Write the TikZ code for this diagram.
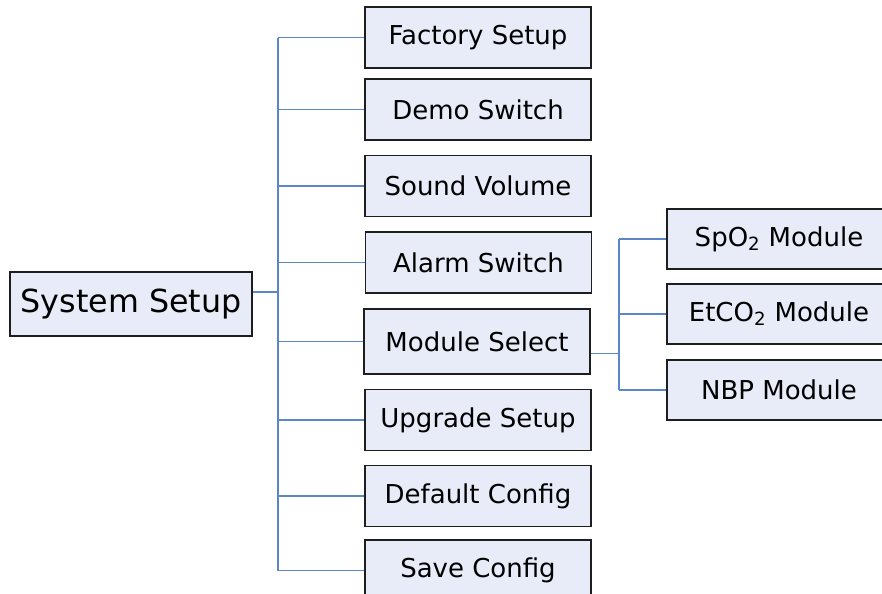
\documentclass[tikz,border=0pt]{standalone}
\usepackage{fontspec}
\setmainfont{DejaVu Sans}
\usetikzlibrary{positioning, calc}

\definecolor{boxfill}{RGB}{232,236,248}
\definecolor{linkblue}{RGB}{91,134,200}

\begin{document}
\begin{tikzpicture}[x=0.75pt,y=0.75pt,yscale=-1,xscale=1,
	item/.style={draw={rgb,255:red,30;green,30;blue,30}, line width=0.8pt, fill=boxfill,
		minimum width=169.5pt, minimum height=45.75pt, inner sep=0pt,
		font=\fontsize{19.5}{23}\selectfont},
	subitem/.style={item, minimum width=168pt, minimum height=45pt},
	link/.style={draw=linkblue, line width=0.8pt}]
	%set diagram size to the reference: 882 x 593
	\clip (0,0) rectangle (882,593);
	\fill[white] (0,0) rectangle (882,593);
	
	% root
	\node [item, minimum width=181.5pt, minimum height=48pt, font=\fontsize{23.8}{28}\selectfont] (ss) at (131,304) {System Setup};
	
	% menu entries
	\node [item] (fs) at (478,37.5) {Factory Setup};
	\node [item] (ds) at (478,109.5) {Demo Switch};
	\node [item] (sv) at (478,186) {Sound Volume};
	\node [item] (as) at (478.5,262.5) {Alarm Switch};
	\node [item, minimum height=48.75pt] (ms) at (477,341.5) {Module Select};
	\node [item] (us) at (478,420) {Upgrade Setup};
	\node [item] (dc) at (478,496) {Default Config};
	\node [item] (sc) at (478,570.5) {Save Config};
	
	% module entries
	\node [subitem] (sp) at (779,239) {SpO\textsubscript{2} Module};
	\node [subitem] (et) at (779,314) {EtCO\textsubscript{2} Module};
	\node [subitem] (nbp) at (779,390) {NBP Module};
	
	% trunks and stems
	\coordinate (tk) at (278,0);
	\coordinate (mk) at (619,0);
	\coordinate (ssout) at ($(ss.east)+(0,-12)$);
	\coordinate (msout) at ($(ms.east)+(0,12)$);
	
	% connectors
	\draw [link] (ssout) -- (ssout -| tk);
	\draw [link] (tk |- fs.west) -- (tk |- sc.west);
	\foreach \n in {fs,ds,sv,as,ms,us,dc,sc}
		\draw [link] (tk |- \n.west) -- (\n.west);
	
	\draw [link] (msout) -- (msout -| mk);
	\draw [link] (mk |- sp.west) -- (mk |- nbp.west);
	\foreach \n in {sp,et,nbp}
		\draw [link] (mk |- \n.west) -- (\n.west);
	
\end{tikzpicture}
\end{document}
